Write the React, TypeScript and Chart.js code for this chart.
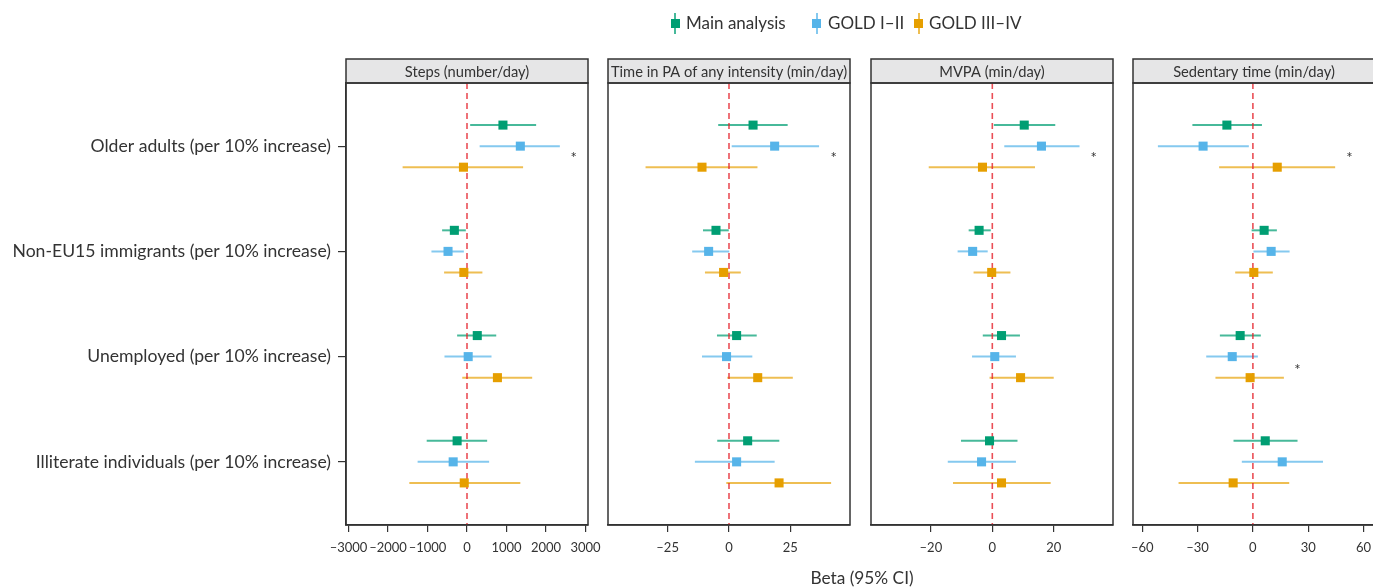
import React, { useEffect, useRef } from "react";
import { Chart, registerables } from "chart.js";

Chart.register(...registerables);

const FONT = "Lato, 'Noto Sans', sans-serif";
const TEXT = "#333333";

const categories = [
  "Older adults (per 10% increase)",
  "Non-EU15 immigrants (per 10% increase)",
  "Unemployed (per 10% increase)",
  "Illiterate individuals (per 10% increase)",
];
const seriesNames = ["Main analysis", "GOLD I\u2013II", "GOLD III\u2013IV"];
const seriesColors = ["#009E73", "#56B4E9", "#E69F00"];
const ciColors = ["rgba(0,158,115,0.72)", "rgba(86,180,233,0.72)", "rgba(230,159,0,0.68)"];
const seriesOffsets = [-0.2, 0, 0.2];

const panelTitles = [
  "Steps (number/day)",
  "Time in PA of any intensity (min/day)",
  "MVPA (min/day)",
  "Sedentary time (min/day)",
];

// [estimate, lower, upper] for each category
const stepsMain = [[910, 80, 1750], [-320, -630, -30], [260, -250, 740], [-250, -1020, 510]];
const stepsGold12 = [[1350, 320, 2350], [-480, -900, -80], [30, -570, 620], [-350, -1250, 560]];
const stepsGold34 = [[-90, -1630, 1420], [-80, -580, 390], [770, -120, 1650], [-70, -1460, 1350]];

const paMain = [[9.8, -4.4, 23.9], [-5.3, -10.6, -0.1], [3.1, -4.9, 11.3], [7.6, -4.8, 20.5]];
const paGold12 = [[18.6, 1.1, 36.7], [-8.3, -15.0, 0.1], [-1.0, -11.0, 9.5], [3.1, -13.9, 18.6]];
const paGold34 = [[-11.0, -34.0, 11.6], [-2.2, -9.8, 4.8], [11.7, -0.7, 26.0], [20.4, -1.1, 41.6]];

const mvpaMain = [[10.4, 0.5, 20.5], [-4.3, -7.7, -0.5], [3.0, -3.1, 9.0], [-0.9, -10.2, 8.2]];
const mvpaGold12 = [[16.0, 3.9, 28.4], [-6.4, -11.3, -1.5], [0.8, -6.6, 7.7], [-3.5, -14.5, 7.7]];
const mvpaGold34 = [[-3.2, -20.7, 13.9], [-0.2, -6.1, 5.9], [9.2, -0.9, 20.0], [3.0, -12.8, 19.0]];

const sedMain = [[-14.1, -32.8, 4.9], [6.1, -0.7, 13.0], [-6.9, -17.9, 4.3], [6.7, -10.5, 24.2]];
const sedGold12 = [[-27.0, -51.5, -2.2], [9.9, 0.3, 19.9], [-11.2, -25.3, 2.7], [15.9, -6.0, 38.0]];
const sedGold34 = [[13.2, -18.3, 44.6], [0.5, -9.6, 10.8], [-1.5, -20.3, 16.8], [-10.7, -40.3, 19.7]];

const stepsTicks = [-3000, -2000, -1000, 0, 1000, 2000, 3000];
const paTicks = [-25, 0, 25];
const mvpaTicks = [-20, 0, 20];
const sedTicks = [-60, -30, 0, 30, 60];

const panelMin = [-3063, -49.3, -39.5, -65.0];
const panelMax = [3063, 49.3, 39.3, 66.2];

// significance markers
const starPanel = [0, 1, 2, 3, 3];
const starX = [2700, 42.7, 33.0, 52.4, 24.2];
const starY = [1.08, 1.08, 1.08, 1.08, 3.09];

const panelData = [
  [stepsMain, stepsGold12, stepsGold34],
  [paMain, paGold12, paGold34],
  [mvpaMain, mvpaGold12, mvpaGold34],
  [sedMain, sedGold12, sedGold34],
];
const panelTicks = [stepsTicks, paTicks, mvpaTicks, sedTicks];

// layout
const W = 1373;
const H = 588;
const PANEL_LEFTS = [346, 608, 871, 1133];
const PANEL_W = 242;
const SIDE = 25;
const PLOT_TOP = 83;
const PLOT_BOTTOM = 525;
const HEADER_TOP = 59;
const Y_MIN = 0.4;
const Y_MAX = 4.6;

const fmt = (v: number) => (v < 0 ? "\u2013" + Math.abs(v) : String(v));

const framePlugin = {
  id: "frame",
  afterDraw(chart: any, _args: any, opts: any) {
    const { ctx, chartArea } = chart;
    const { left, right, top, bottom } = chartArea;
    ctx.save();
    // header strip
    ctx.fillStyle = "#e6e6e7";
    ctx.fillRect(left, HEADER_TOP, right - left, top - HEADER_TOP);
    ctx.strokeStyle = "#333333";
    ctx.lineWidth = 1.5;
    ctx.strokeRect(left, HEADER_TOP, right - left, top - HEADER_TOP);
    ctx.strokeRect(left, top, right - left, bottom - top);
    ctx.fillStyle = TEXT;
    ctx.font = `14.7px ${FONT}`;
    ctx.textAlign = "center";
    ctx.textBaseline = "middle";
    ctx.fillText(opts.title, (left + right) / 2, (HEADER_TOP + top) / 2 + 1);
    // stars
    ctx.font = `15px ${FONT}`;
    ctx.textBaseline = "alphabetic";
    const xs = chart.scales.x;
    const ys = chart.scales.y;
    (opts.stars || []).forEach((s: any) => {
      const px = xs.getPixelForValue(s.x);
      const py = ys.getPixelForValue(s.y);
      ctx.fillText("*", px, py + 8.5);
    });
    ctx.restore();
  },
};

function buildConfig(p: number): any {
  const datasets: any[] = [];
  const data = panelData[p];
  data.forEach((rows, s) => {
    rows.forEach((r, k) => {
      const y = k + 1 + seriesOffsets[s];
      datasets.push({
        type: "scatter",
        data: [{ x: r[1], y }, { x: r[2], y }],
        showLine: true,
        borderColor: ciColors[s],
        borderWidth: 2,
        pointRadius: 0,
        pointHoverRadius: 0,
        order: 3,
      });
    });
  });
  datasets.push({
    type: "scatter",
    data: [{ x: 0, y: Y_MIN }, { x: 0, y: Y_MAX }],
    showLine: true,
    borderColor: "rgba(228,30,38,0.78)",
    borderWidth: 1.6,
    borderDash: [6, 4],
    pointRadius: 0,
    order: 2,
  });
  data.forEach((rows, s) => {
    datasets.push({
      type: "scatter",
      label: seriesNames[s],
      data: rows.map((r, k) => ({ x: r[0], y: k + 1 + seriesOffsets[s] })),
      pointStyle: "rect",
      pointRadius: 6.4,
      backgroundColor: seriesColors[s],
      borderWidth: 0,
      order: 1,
    });
  });

  const stars: any[] = [];
  starPanel.forEach((sp, i) => {
    if (sp === p) stars.push({ x: starX[i], y: starY[i] });
  });

  const yScale: any = {
    type: "linear",
    min: Y_MIN,
    max: Y_MAX,
    reverse: true,
    display: p === 0,
    afterBuildTicks: (s: any) => {
      s.ticks = categories.map((_, i) => ({ value: i + 1 }));
    },
    ticks: {
      autoSkip: false,
      callback: (_v: any, i: number) => categories[i],
      font: { family: FONT, size: 17.6 },
      color: TEXT,
      padding: 7,
    },
    grid: { drawOnChartArea: false, tickLength: 8, color: "#333333", lineWidth: 1.2 },
    border: { display: true, color: "#333333", width: 1.5 },
  };
  if (p === 0) {
    yScale.afterFit = (s: any) => {
      s.width = PANEL_LEFTS[0];
    };
  }

  return {
    type: "scatter",
    data: { datasets },
    options: {
      animation: false,
      responsive: false,
      maintainAspectRatio: false,
      events: [],
      layout: {
        padding: { top: PLOT_TOP, bottom: 0, left: p === 0 ? 0 : SIDE, right: SIDE },
      },
      plugins: {
        legend: { display: false },
        tooltip: { enabled: false },
        title: { display: false },
        frame: { title: panelTitles[p], stars },
      },
      scales: {
        x: {
          type: "linear",
          min: panelMin[p],
          max: panelMax[p],
          afterBuildTicks: (s: any) => {
            s.ticks = panelTicks[p].map((v) => ({ value: v }));
          },
          afterFit: (s: any) => {
            s.height = H - PLOT_BOTTOM;
          },
          ticks: {
            autoSkip: false,
            maxRotation: 0,
            callback: (v: any) => fmt(Number(v)),
            font: { family: FONT, size: 13 },
            color: TEXT,
            padding: 8,
          },
          grid: { drawOnChartArea: false, tickLength: 7, color: "#333333", lineWidth: 1.2 },
          border: { display: true, color: "#333333", width: 1.5 },
        },
        y: yScale,
      },
    },
    plugins: [framePlugin],
  };
}

function Panel({ p }: { p: number }) {
  const ref = useRef<HTMLCanvasElement>(null);
  useEffect(() => {
    if (!ref.current) return;
    const chart = new Chart(ref.current, buildConfig(p));
    return () => chart.destroy();
  }, [p]);
  const left = p === 0 ? 0 : PANEL_LEFTS[p] - SIDE;
  const width = p === 0 ? PANEL_LEFTS[0] + PANEL_W + SIDE : PANEL_W + 2 * SIDE;
  return (
    <canvas
      ref={ref}
      width={width}
      height={H}
      style={{ position: "absolute", left, top: 0, width, height: H }}
    />
  );
}

const legendMarkerX = [675, 816.5, 918.5];
const legendTextX = [686, 828, 929];

export default function App() {
  return (
    <div
      style={{
        position: "absolute",
        left: 0,
        top: 0,
        width: W,
        height: H,
        overflow: "hidden",
        background: "#ffffff",
        fontFamily: FONT,
        color: TEXT,
      }}
    >
      {[0, 1, 2, 3].map((p) => (
        <Panel key={p} p={p} />
      ))}
      {seriesNames.map((name, s) => (
        <React.Fragment key={name}>
          <div
            style={{
              position: "absolute",
              left: legendMarkerX[s] - 1,
              top: 13,
              width: 2,
              height: 21,
              background: ciColors[s],
            }}
          />
          <div
            style={{
              position: "absolute",
              left: legendMarkerX[s] - 4.5,
              top: 18.5,
              width: 9,
              height: 9,
              background: seriesColors[s],
            }}
          />
          <div
            style={{
              position: "absolute",
              left: legendTextX[s],
              top: 12,
              fontSize: 17,
              lineHeight: "22px",
              whiteSpace: "nowrap",
            }}
          >
            {name}
          </div>
        </React.Fragment>
      ))}
      <div
        style={{
          position: "absolute",
          left: 762,
          width: 200,
          top: 566,
          textAlign: "center",
          fontSize: 17.3,
          lineHeight: "24px",
          whiteSpace: "nowrap",
        }}
      >
        Beta (95% CI)
      </div>
    </div>
  );
}
